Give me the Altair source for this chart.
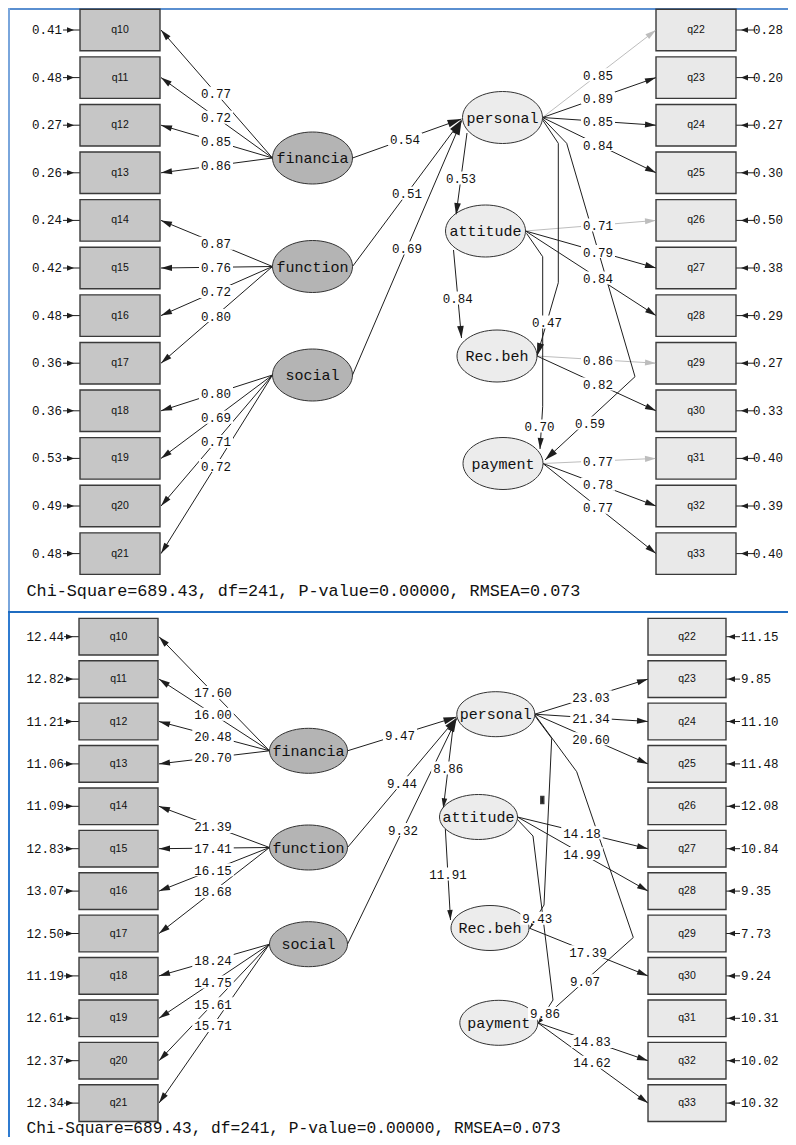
import math
import altair as alt
import pandas as pd

# ---------------- data ----------------
LEFT_ITEMS = ["q10", "q11", "q12", "q13", "q14", "q15", "q16", "q17", "q18", "q19", "q20", "q21"]
RIGHT_ITEMS = ["q22", "q23", "q24", "q25", "q26", "q27", "q28", "q29", "q30", "q31", "q32", "q33"]
EXO = ["financia", "function", "social"]
ENDO = ["personal", "attitude", "Rec.beh", "payment"]
LEFT_GROUP = ["financia"] * 4 + ["function"] * 4 + ["social"] * 4
RIGHT_GROUP = ["personal"] * 4 + ["attitude"] * 3 + ["Rec.beh"] * 2 + ["payment"] * 3
REFERENCE_ITEMS = ["q22", "q26", "q29", "q31"]

STD_ERR_LEFT = [0.41, 0.48, 0.27, 0.26, 0.24, 0.42, 0.48, 0.36, 0.36, 0.53, 0.49, 0.48]
STD_ERR_RIGHT = [0.28, 0.20, 0.27, 0.30, 0.50, 0.38, 0.29, 0.27, 0.33, 0.40, 0.39, 0.40]
STD_LOAD_LEFT = [0.77, 0.72, 0.85, 0.86, 0.87, 0.76, 0.72, 0.80, 0.80, 0.69, 0.71, 0.72]
STD_LOAD_RIGHT = [0.85, 0.89, 0.85, 0.84, 0.71, 0.79, 0.84, 0.86, 0.82, 0.77, 0.78, 0.77]

T_ERR_LEFT = [12.44, 12.82, 11.21, 11.06, 11.09, 12.83, 13.07, 12.50, 11.19, 12.61, 12.37, 12.34]
T_ERR_RIGHT = [11.15, 9.85, 11.10, 11.48, 12.08, 10.84, 9.35, 7.73, 9.24, 10.31, 10.02, 10.32]
T_LOAD_LEFT = [17.60, 16.00, 20.48, 20.70, 21.39, 17.41, 16.15, 18.68, 18.24, 14.75, 15.61, 15.71]
T_LOAD_RIGHT = [None, 23.03, 21.34, 20.60, None, 14.18, 14.99, None, 17.39, None, 14.83, 14.62]

PATHS = [("financia", "personal"), ("function", "personal"), ("social", "personal"),
         ("personal", "attitude"), ("attitude", "Rec.beh"), ("personal", "Rec.beh"),
         ("attitude", "payment"), ("personal", "payment")]
STD_PATH = [0.54, 0.51, 0.69, 0.53, 0.84, 0.47, 0.70, 0.59]
T_PATH = [9.47, 9.44, 9.32, 8.86, 11.91, 9.43, 9.86, 9.07]

FIT_TEXT = "Chi-Square=689.43,  df=241, P-value=0.00000, RMSEA=0.073"

# ---------------- layout (diagram geometry, in page pixels) ----------------
PANELS = [
    dict(err_l=STD_ERR_LEFT, err_r=STD_ERR_RIGHT, load_l=STD_LOAD_LEFT, load_r=STD_LOAD_RIGHT,
         path=STD_PATH, gray_ref=True,
         row0=30.0, pitch=47.6, box_h=41.5, lbox=(80, 160), rbox=(656, 736),
         ell_w=80, ell_h=52, exo_x=312.5, exo_y=[158, 266.5, 375],
         endo={"personal": (502.5, 117.5), "attitude": (485.5, 231), "Rec.beh": (497, 356),
               "payment": (503, 463.5)},
         lcol=216, rcol={"personal": 598, "attitude": 598, "Rec.beh": 598, "payment": 598},
         errl_text=62, errl_x0=63, errl_tip=74,
         errr_text=753, errr_x1=755, errr_tip=741,
         routes=[
             ([(352.5, 158), (461.5, 119)], ("x", 405), 14),
             ([(352.5, 266.5), (461.5, 120)], ("x", 407), 14),
             ([(352.5, 375), (461.5, 121)], ("x", 407), 14),
             ([(467, 133), (456, 215)], ("y", 178), 12),
             ([(453.5, 250), (461.5, 338)], ("y", 298), 12),
             ([(542, 119), (558.3, 143.3), (558.3, 282.7), (537, 356)], ("pt", 547, 322), 13),
             ([(526.5, 233.3), (542.7, 256.7), (542.7, 406.7), (540, 449)], ("pt", 539.5, 426), 11),
             ([(542.5, 118.3), (566.7, 143.3), (635, 376.7), (545, 460)], ("pt", 590, 423), 13),
         ],
         marks=[],
         fit_y=591, fit_size=16.8),
    dict(err_l=T_ERR_LEFT, err_r=T_ERR_RIGHT, load_l=T_LOAD_LEFT, load_r=T_LOAD_RIGHT,
         path=T_PATH, gray_ref=False,
         row0=636.7, pitch=42.4, box_h=36.7, lbox=(79, 158), rbox=(648, 726),
         ell_w=78, ell_h=45, exo_x=308.5, exo_y=[750.8, 847.5, 944.2],
         endo={"personal": (495.8, 714.2), "attitude": (478.5, 817), "Rec.beh": (490, 928),
               "payment": (498.8, 1022.8)},
         lcol=213, rcol={"personal": 591, "attitude": 582, "Rec.beh": 588, "payment": 592},
         errl_text=64, errl_x0=64, errl_tip=73,
         errr_text=741, errr_x1=740, errr_tip=728,
         routes=[
             ([(347.5, 750.8), (456.5, 717)], ("x", 400), 13),
             ([(347.5, 847.5), (456.5, 718)], ("x", 402), 13),
             ([(347.5, 944.2), (456.5, 719)], ("x", 403), 13),
             ([(453.3, 725), (443.3, 808.3)], ("y", 768), 10),
             ([(445, 823), (450.5, 920)], ("y", 874), 10),
             ([(535, 716), (551.7, 738.3), (544, 905), (530, 928)], ("pt", 537.3, 918.3), 5),
             ([(516, 818), (533, 836), (553, 1000), (538.3, 1023)], ("pt", 545, 1013.3), 5),
             ([(535, 715), (576.7, 771.7), (633.3, 937.5), (560, 1003.3), (538.3, 1023)],
              ("pt", 585, 980.7), 5),
         ],
         marks=[(542.3, 800)],
         fit_y=1127.5, fit_size=16.2),
]

INK = "#1e1e1e"
GRAY_LINE = "#bdbdbd"
BOX_LEFT_FILL = "#c6c6c6"
BOX_RIGHT_FILL = "#e9e9e9"
EXO_FILL = "#b4b4b4"
ENDO_FILL = "#ececec"
CHAR_W = 7.5  # width per character of label font (monospace 12.5px)

HEAD_MAIN = "M0,-1L0.55,1L-0.55,1Z"
HEAD_ERR = "M0,-1L0.8,1L-0.8,1Z"

PAGE_W, PAGE_H = 780, 1129  # drawable area (page minus 8px margins)


def ellipse_path(ratio, n=60):
    pts = []
    for k in range(n):
        t = 2 * math.pi * k / n
        pts.append(f"{math.cos(t):.4f},{ratio * math.sin(t):.4f}")
    return "M" + "L".join(pts) + "Z"


segs, heads, bgs, boxes, ells = [], [], [], [], []
t_ell, t_load, t_errl, t_errr, t_box, t_fit = [], [], [], [], [], []


def add_seg(p0, p1, color):
    segs.append(dict(x=p0[0], y=p0[1], x2=p1[0], y2=p1[1], color=color))


def add_head(p0, p1, color, L=11.0, shape=HEAD_MAIN):
    dx, dy = p1[0] - p0[0], p1[1] - p0[1]
    n = math.hypot(dx, dy)
    ux, uy = dx / n, dy / n
    heads.append(dict(x=p1[0] - ux * L / 2, y=p1[1] - uy * L / 2,
                      angle=math.degrees(math.atan2(dx, -dy)) % 360,
                      size=L * L, shape=shape, color=color))


def add_label(x, y, text):
    w = len(text) * CHAR_W + 4
    bgs.append(dict(x=x - w / 2, x2=x + w / 2, y=y - 6.5, y2=y + 6.5))
    t_load.append(dict(x=x, y=y + 1, text=text))


def fmt(v):
    return f"{v:.2f}"


for P in PANELS:
    rows = [P["row0"] + i * P["pitch"] for i in range(12)]
    hh = P["box_h"] / 2
    lx0, lx1 = P["lbox"]
    rx0, rx1 = P["rbox"]
    # boxes
    for i, name in enumerate(LEFT_ITEMS):
        boxes.append(dict(x=lx0, x2=lx1, y=rows[i] - hh, y2=rows[i] + hh, fill=BOX_LEFT_FILL))
        t_box.append(dict(x=(lx0 + lx1) / 2, y=rows[i], text=name))
        add_seg((P["errl_x0"], rows[i]), (lx0, rows[i]), INK)
        add_head((P["errl_x0"], rows[i]), (P["errl_tip"], rows[i]), INK, 7.0, HEAD_ERR)
        t_errl.append(dict(x=P["errl_text"], y=rows[i], text=fmt(P["err_l"][i])))
    for i, name in enumerate(RIGHT_ITEMS):
        boxes.append(dict(x=rx0, x2=rx1, y=rows[i] - hh, y2=rows[i] + hh, fill=BOX_RIGHT_FILL))
        t_box.append(dict(x=(rx0 + rx1) / 2, y=rows[i], text=name))
        add_seg((rx1, rows[i]), (P["errr_x1"], rows[i]), INK)
        add_head((P["errr_x1"], rows[i]), (P["errr_tip"], rows[i]), INK, 7.0, HEAD_ERR)
        t_errr.append(dict(x=P["errr_text"], y=rows[i], text=fmt(P["err_r"][i])))

    # latent ellipses
    shape = ellipse_path(P["ell_h"] / P["ell_w"])
    centers = {}
    for k, name in enumerate(EXO):
        centers[name] = (P["exo_x"], P["exo_y"][k])
        ells.append(dict(x=P["exo_x"], y=P["exo_y"][k], shape=shape, size=P["ell_w"] ** 2, fill=EXO_FILL))
        t_ell.append(dict(x=P["exo_x"], y=P["exo_y"][k], text=name))
    for name in ENDO:
        cx, cy = P["endo"][name]
        centers[name] = (cx, cy)
        ells.append(dict(x=cx, y=cy, shape=shape, size=P["ell_w"] ** 2, fill=ENDO_FILL))
        t_ell.append(dict(x=cx, y=cy, text=name))

    # loadings, left side (latent -> item)
    for i, name in enumerate(LEFT_ITEMS):
        cx, cy = centers[LEFT_GROUP[i]]
        p0 = (cx - P["ell_w"] / 2, cy)
        p1 = (lx1 + 1, rows[i])
        add_seg(p0, p1, INK)
        add_head(p0, p1, INK)
        t = (P["lcol"] - p0[0]) / (p1[0] - p0[0])
        add_label(P["lcol"], p0[1] + t * (p1[1] - p0[1]), fmt(P["load_l"][i]))

    # loadings, right side
    for i, name in enumerate(RIGHT_ITEMS):
        val = P["load_r"][i]
        if val is None:
            continue
        grp = RIGHT_GROUP[i]
        cx, cy = centers[grp]
        color = GRAY_LINE if (P["gray_ref"] and name in REFERENCE_ITEMS) else INK
        p0 = (cx + P["ell_w"] / 2, cy)
        p1 = (rx0, rows[i])
        add_seg(p0, p1, color)
        add_head(p0, p1, color)
        col = P["rcol"][grp]
        t = (col - p0[0]) / (p1[0] - p0[0])
        add_label(col, p0[1] + t * (p1[1] - p0[1]), fmt(val))

    # structural paths
    for k, (pts, lab, hl) in enumerate(P["routes"]):
        for a, b in zip(pts[:-1], pts[1:]):
            add_seg(a, b, INK)
        add_head(pts[-2], pts[-1], INK, hl)
        a, b = pts[-2], pts[-1]
        if lab[0] == "x":
            t = (lab[1] - a[0]) / (b[0] - a[0])
            lxy = (lab[1], a[1] + t * (b[1] - a[1]))
        elif lab[0] == "y":
            t = (lab[1] - a[1]) / (b[1] - a[1])
            lxy = (a[0] + t * (b[0] - a[0]), lab[1])
        else:
            lxy = (lab[1], lab[2])
        add_label(lxy[0], lxy[1], fmt(P["path"][k]))

    for (mx, my) in P["marks"]:
        boxes.append(dict(x=mx - 1.5, x2=mx + 1.5, y=my - 3.5, y2=my + 3.5, fill=INK))

    t_fit.append(dict(x=26.5, y=P["fit_y"], text=FIT_TEXT, fs=P["fit_size"]))

frame = pd.DataFrame([
    dict(x=8, y=9, x2=8 + PAGE_W, y2=9, color="#5a8fd0"),
    dict(x=9, y=8, x2=9, y2=612, color="#7aa6dc"),
    dict(x=9, y=612, x2=9, y2=8 + PAGE_H, color="#2f7bd0"),
    dict(x=8, y=612, x2=8 + PAGE_W, y2=612, color="#1f6cc0"),
])

# ---------------- chart ----------------
XS = alt.Scale(domain=[8, 8 + PAGE_W], zero=False, nice=False)
YS = alt.Scale(domain=[8, 8 + PAGE_H], zero=False, nice=False, reverse=True)


def X(f="x"):
    return alt.X(f"{f}:Q", scale=XS, axis=None)


def Y(f="y"):
    return alt.Y(f"{f}:Q", scale=YS, axis=None)


frame_layer = alt.Chart(frame).mark_rule(strokeWidth=2).encode(
    x=X(), y=Y(), x2="x2:Q", y2="y2:Q", color=alt.Color("color:N", scale=None))

seg_layer = alt.Chart(pd.DataFrame(segs)).mark_rule(strokeWidth=1).encode(
    x=X(), y=Y(), x2="x2:Q", y2="y2:Q", color=alt.Color("color:N", scale=None))

box_layer = alt.Chart(pd.DataFrame(boxes)).mark_rect(stroke="#3a3a3a", strokeWidth=1.4).encode(
    x=X(), y=Y(), x2="x2:Q", y2="y2:Q", fill=alt.Fill("fill:N", scale=None))

ell_layer = alt.Chart(pd.DataFrame(ells)).mark_point(
    filled=True, opacity=1, stroke="#333333", strokeWidth=1).encode(
    x=X(), y=Y(), shape=alt.Shape("shape:N", scale=None),
    size=alt.Size("size:Q", scale=None), fill=alt.Fill("fill:N", scale=None))

bg_layer = alt.Chart(pd.DataFrame(bgs)).mark_rect(fill="white").encode(
    x=X(), y=Y(), x2="x2:Q", y2="y2:Q")

head_layer = alt.Chart(pd.DataFrame(heads)).mark_point(filled=True, opacity=1, strokeWidth=0).encode(
    x=X(), y=Y(), shape=alt.Shape("shape:N", scale=None), size=alt.Size("size:Q", scale=None),
    angle=alt.Angle("angle:Q", scale=None), fill=alt.Fill("color:N", scale=None))

MONO = "Liberation Mono"


def text_layer(rows, font, size, align, dx=0):
    return alt.Chart(pd.DataFrame(rows)).mark_text(
        font=font, fontSize=size, align=align, baseline="middle", color="#111111", dx=dx).encode(
        x=X(), y=Y(), text="text:N")


fit_layer = alt.Chart(pd.DataFrame(t_fit)).mark_text(
    font=MONO, align="left", baseline="middle", color="#111111").encode(
    x=X(), y=Y(), text="text:N", size=alt.Size("fs:Q", scale=None))

layers = [
    frame_layer, seg_layer, box_layer, ell_layer, bg_layer, head_layer,
    text_layer(t_ell, MONO, 15, "center"),
    text_layer(t_load, MONO, 12.5, "center"),
    text_layer(t_errl, MONO, 12.5, "right"),
    text_layer(t_errr, MONO, 12.5, "left"),
    text_layer(t_box, "Liberation Sans", 10.5, "center"),
    fit_layer,
]

chart = alt.layer(*layers).properties(
    width=PAGE_W, height=PAGE_H, padding=0, autosize=alt.AutoSizeParams(type="none")
).configure_view(stroke=None)

chart.save("out.html", embed_options={"renderer": "svg", "actions": False})
